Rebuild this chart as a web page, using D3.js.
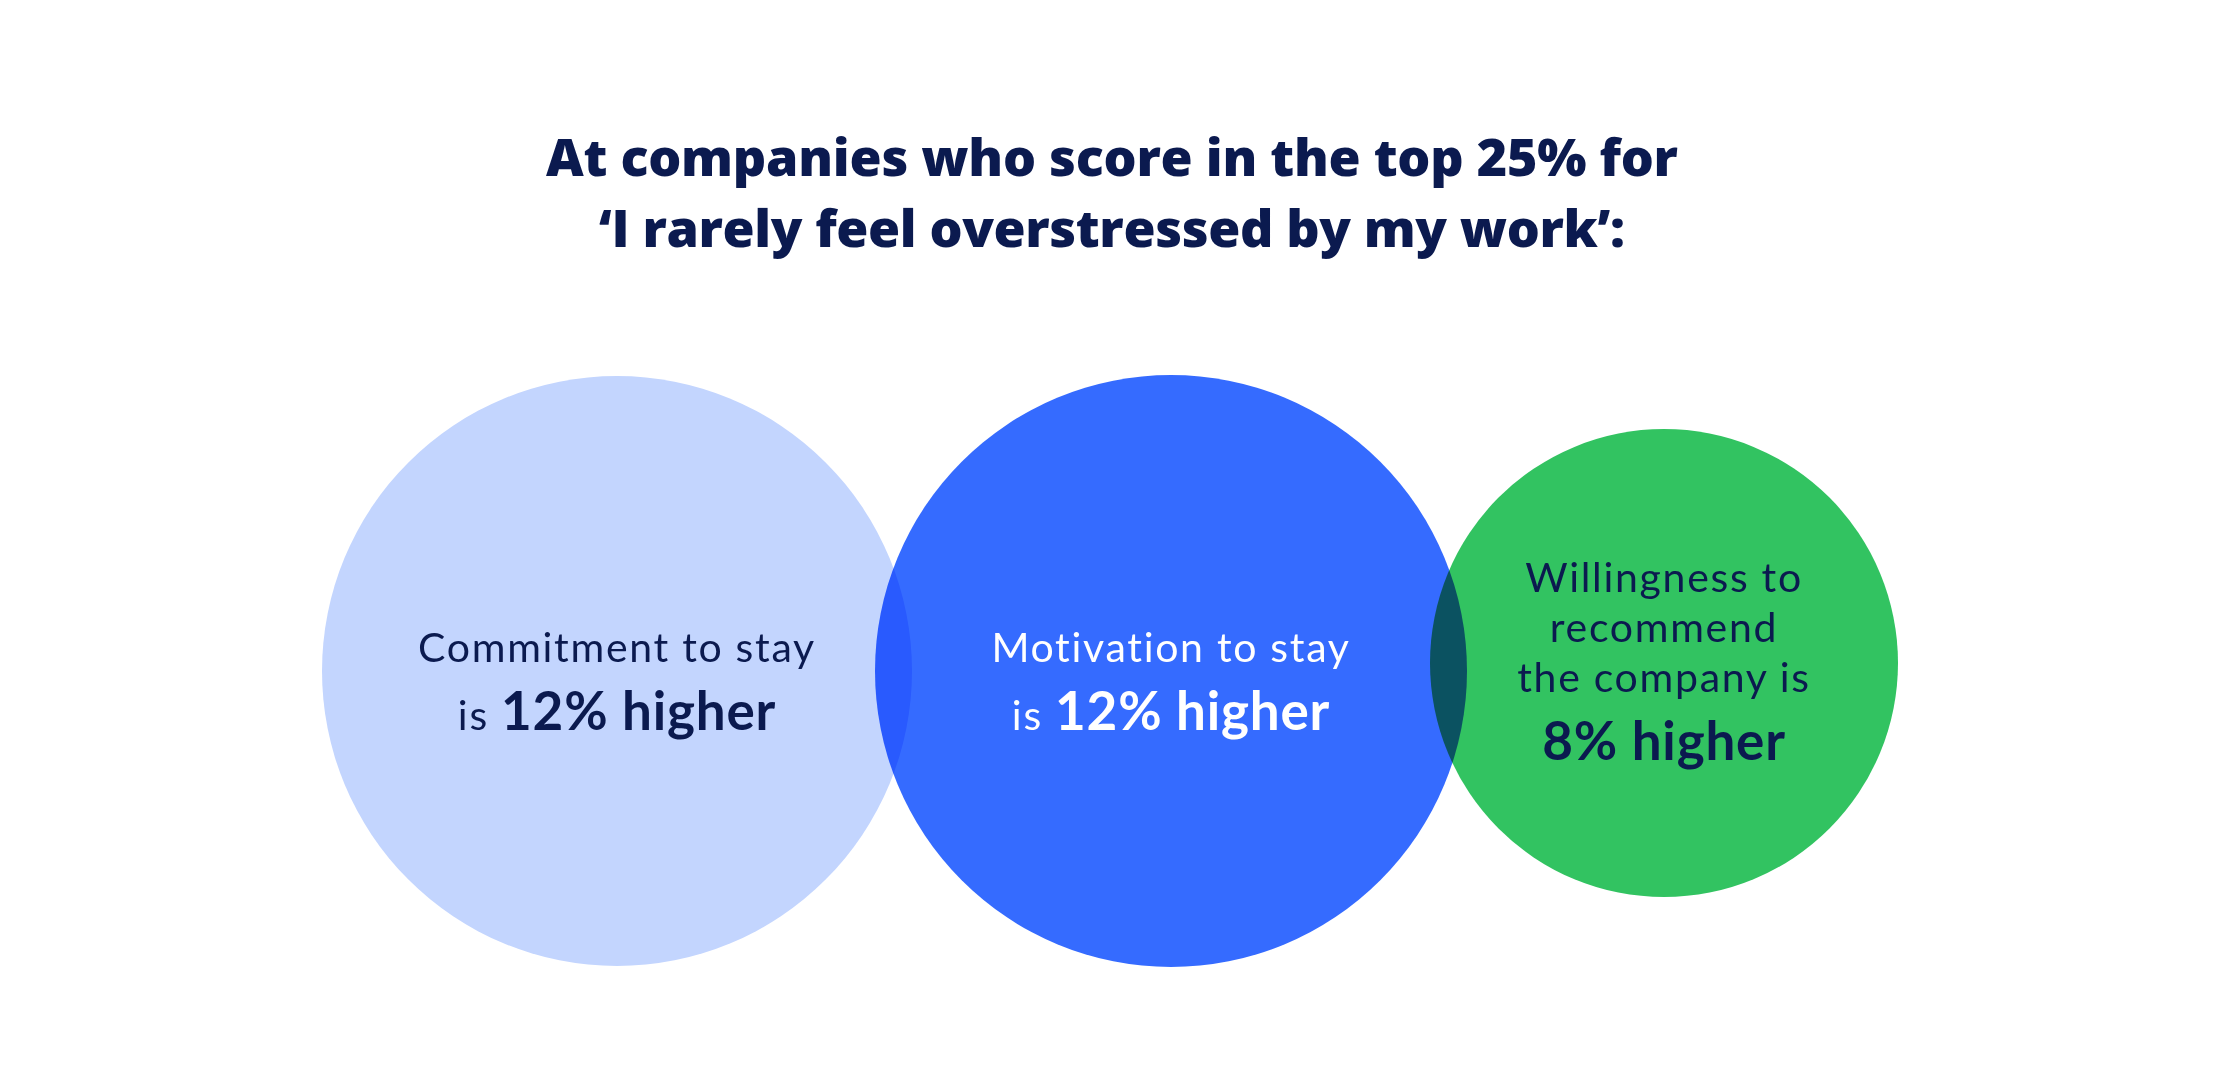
<!DOCTYPE html>
<html>
<head>
<meta charset="utf-8">
<script src="https://cdnjs.cloudflare.com/ajax/libs/d3/7.8.5/d3.min.js"></script>
<style>
  html, body { margin: 0; padding: 0; background: #ffffff; }
  #chart { width: 2224px; height: 1090px; }
</style>
</head>
<body>
<div id="chart"></div>
<script>
// Chart data
const titleLines = ["At companies who score in the top 25% for", "\u2018I rarely feel overstressed by my work\u2019:"];
const labelLines = [
    ["Commitment to stay", "is"],
    ["Motivation to stay", "is"],
    ["Willingness to", "recommend", "the company is"]
];
const values = [12, 12, 8];            // % higher
const valueInline = [true, true, false]; // value sits on the same line as "is"

// Styling
const fills = ["#c3d5fe", "#356bff", "#32c361"];
const textColors = ["#0b1a4f", "#ffffff", "#0b1a4f"];
const navy = "#0b1a4f";

const width = 2224;
const height = 1090;

const svg = d3.select("#chart").append("svg")
    .attr("width", width)
    .attr("height", height)
    .style("background-color", "#ffffff");

// Title (widths)
const titleWidths = [1132, 1026];
svg.append("g")
    .selectAll("text")
    .data(titleLines)
    .enter().append("text")
    .attr("x", width / 2)
    .attr("y", (d, i) => 176 + i * 71)
    .attr("text-anchor", "middle")
    .attr("textLength", (d, i) => titleWidths[i])
    .attr("lengthAdjust", "spacing")
    .style("font-family", "'Open Sans', Lato, sans-serif")
    .style("font-weight", 800)
    .style("font-size", "52px")
    .style("fill", navy)
    .text(d => d);

// Radius from value
const r = d3.scaleLinear().domain([8, 12]).range([234, 295]);

// Lay the circles out left to right, each overlapping the previous by a sliver
const overlap = 37;
const startLeft = 322;
const rowY = 671;
const circles = [];
values.forEach((v, i) => {
    const rad = r(v) + (i === 1 ? 1 : 0);
    const prev = circles[i - 1];
    const cx = prev ? prev.cx + prev.r + rad - overlap : startLeft + rad;
    // smaller circle sits a touch higher
    const cy = rowY - (r(d3.max(values)) - r(v)) * 0.13;
    circles.push({ i, v, r: rad, cx, cy });
});

const g = svg.append("g");

g.selectAll("circle")
    .data(circles)
    .enter().append("circle")
    .attr("cx", d => d.cx)
    .attr("cy", d => d.cy)
    .attr("r", d => d.r)
    .attr("fill", d => fills[d.i])
    .style("mix-blend-mode", "multiply");

// Labels
const lineStep = 50;
const valueStep = 68;

const label = g.selectAll("g.label")
    .data(circles)
    .enter().append("g")
    .attr("class", "label");

label.each(function(d) {
    const lines = labelLines[d.i];
    const inline = valueInline[d.i];
    const nRegular = inline ? lines.length - 1 : lines.length;
    const firstY = d.cy - 9 - 31 * (nRegular - 1);
    const sel = d3.select(this);

    for (let k = 0; k < nRegular; k++) {
        sel.append("text")
            .attr("x", d.cx)
            .attr("y", firstY + k * lineStep)
            .attr("text-anchor", "middle")
            .style("font-family", "Lato, 'Noto Sans', sans-serif")
            .style("font-weight", 400)
            .style("font-size", "41px")
            .style("letter-spacing", "1.7px")
            .style("fill", textColors[d.i])
            .text(lines[k]);
    }

    const valueY = firstY + (nRegular - 1) * lineStep + valueStep;
    const t = sel.append("text")
        .attr("x", d.cx)
        .attr("y", valueY)
        .attr("text-anchor", "middle")
        .style("font-family", "Lato, 'Noto Sans', sans-serif")
        .style("fill", textColors[d.i]);
    if (inline) {
        t.append("tspan")
            .style("font-weight", 400)
            .style("font-size", "41px")
            .style("letter-spacing", "1.7px")
            .text(lines[lines.length - 1] + " ");
    }
    t.append("tspan")
        .style("font-weight", 700)
        .style("font-size", "53px")
        .style("letter-spacing", "0.8px")
        .text(d.v + "% higher");
});
</script>
</body>
</html>
